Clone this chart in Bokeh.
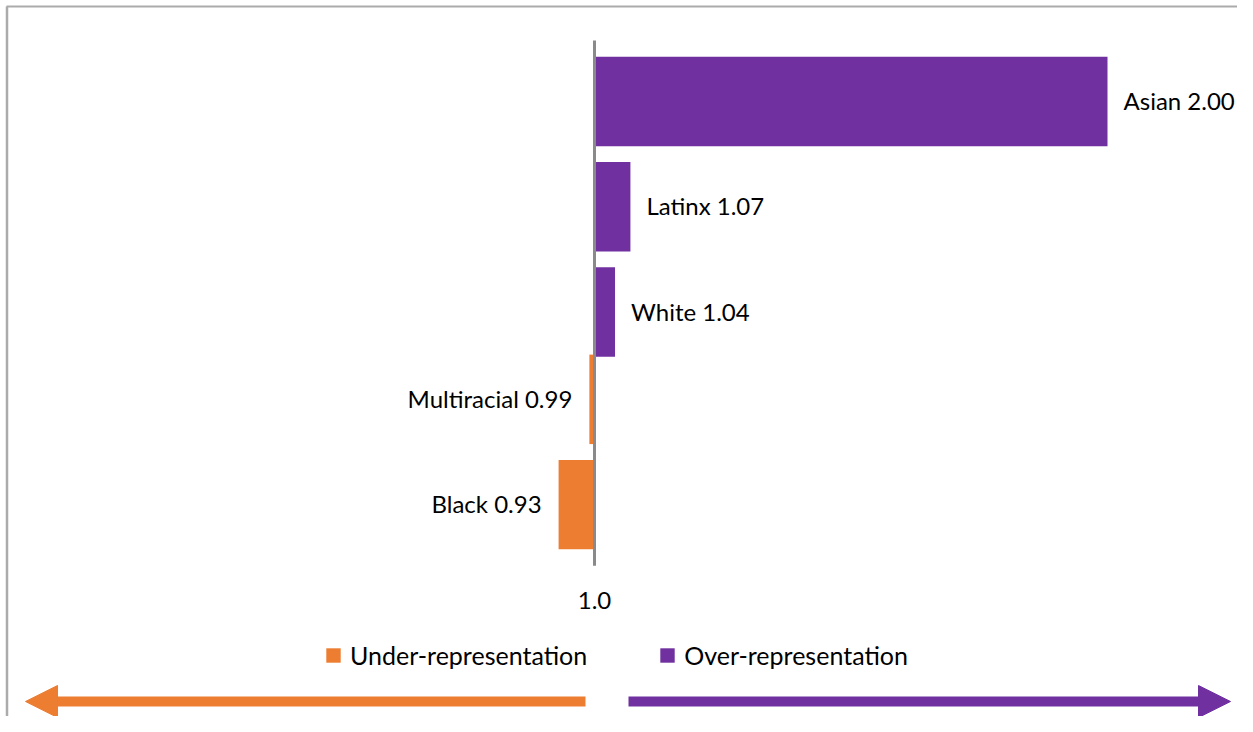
import numpy as np
from bokeh.plotting import figure
from bokeh.models import (ColumnDataSource, Range1d, Legend, LegendItem, Arrow,
                          NormalHead, Label)
from bokeh.core.properties import value
from bokeh.embed import file_html
from bokeh.resources import INLINE

# ---- data ----
categories = ["Asian", "Latinx", "White", "Multiracial", "Black"]
ratios = [2.00, 1.07, 1.04, 0.99, 0.93]
baseline = 1.0
baseline_label = "1.0"
legend_labels = ["Under-representation", "Over-representation"]

# ---- styles ----
ORANGE = "#ED7D31"
PURPLE = "#7030A0"
AXIS_GRAY = "#8A8A8A"
FRAME_GRAY = "#ABABAB"
FONT = "Lato"
FS = "24px"

n = len(categories)
slot = list(range(n - 1, -1, -1))  # top-to-bottom order
under_shift = 0.17
bar_h = 0.85

over = dict(y=[], right=[], label=[])
under = dict(y=[], right=[], label=[])
for c, r, s in zip(categories, ratios, slot):
    lab = f"{c} {r:.2f}"
    if r >= baseline:
        over["y"].append(s); over["right"].append(r); over["label"].append(lab)
    else:
        under["y"].append(s + under_shift); under["right"].append(r); under["label"].append(lab)

src_over = ColumnDataSource(over)
src_under = ColumnDataSource(under)

W, H = 1237, 716
px_per_unit = 513.0
base_px = 594
x_start = baseline - base_px / px_per_unit
x_end = baseline + (W - base_px) / px_per_unit
slot_px = 105.25
top_slot_px = 101
y_end = (n - 1) + top_slot_px / slot_px
y_start = (n - 1) - (H - top_slot_px) / slot_px

p = figure(width=W, height=H, output_backend="svg", toolbar_location=None,
           x_range=Range1d(x_start, x_end), y_range=Range1d(y_start, y_end),
           x_axis_location=None, y_axis_location=None, min_border=0,
           background_fill_color="white", border_fill_color="white")
p.grid.visible = False
p.outline_line_color = None

r_under = p.hbar(y="y", left=baseline, right="right", height=bar_h, source=src_under,
                 fill_color=ORANGE, line_color=None)
r_over = p.hbar(y="y", left=baseline, right="right", height=bar_h, source=src_over,
                fill_color=PURPLE, line_color=None)

# baseline axis line
p.segment(x0=[baseline], x1=[baseline], y0=[(n - 1) + 0.58], y1=[-0.41],
          line_color=AXIS_GRAY, line_width=3)

p.text(x="right", y="y", text="label", source=src_over, x_offset=16, y_offset=-1,
       text_align="left", text_baseline="middle", text_font=value(FONT),
       text_font_size=FS, text_color="black")
p.text(x="right", y="y", text="label", source=src_under, x_offset=-17, y_offset=-1,
       text_align="right", text_baseline="middle", text_font=value(FONT),
       text_font_size=FS, text_color="black")

p.add_layout(Label(x=baseline, y=H - 600, y_units="screen", text=baseline_label,
                   text_align="center", text_baseline="middle", text_font=FONT,
                   text_font_size=FS, text_color="black"))

legend = Legend(items=[LegendItem(label=legend_labels[0], renderers=[r_under]),
                       LegendItem(label=legend_labels[1], renderers=[r_over])],
                orientation="horizontal", location=(324, 46),
                glyph_width=18, glyph_height=18, label_standoff=8, spacing=71,
                padding=0, margin=0, border_line_color=None,
                background_fill_alpha=0, label_text_font=FONT,
                label_text_font_size="25px", label_text_color="black")
p.add_layout(legend)

# direction arrows
ay = H - 701
p.add_layout(Arrow(end=NormalHead(size=32, fill_color=ORANGE, line_color=ORANGE),
                   x_start=585, y_start=ay, x_end=25, y_end=ay,
                   start_units="screen", end_units="screen",
                   line_color=ORANGE, line_width=10))
p.add_layout(Arrow(end=NormalHead(size=32, fill_color=PURPLE, line_color=PURPLE),
                   x_start=628, y_start=ay, x_end=1230, y_end=ay,
                   start_units="screen", end_units="screen",
                   line_color=PURPLE, line_width=10))

# frame lines (top and left)
p.add_layout(Arrow(end=None, x_start=6, y_start=H - 6, x_end=W, y_end=H - 6,
                   start_units="screen", end_units="screen",
                   line_color=FRAME_GRAY, line_width=2))
p.add_layout(Arrow(end=None, x_start=6.5, y_start=H - 6, x_end=6.5, y_end=0,
                   start_units="screen", end_units="screen",
                   line_color=FRAME_GRAY, line_width=2.5))

open("out.html", "w").write(file_html(p, INLINE))
